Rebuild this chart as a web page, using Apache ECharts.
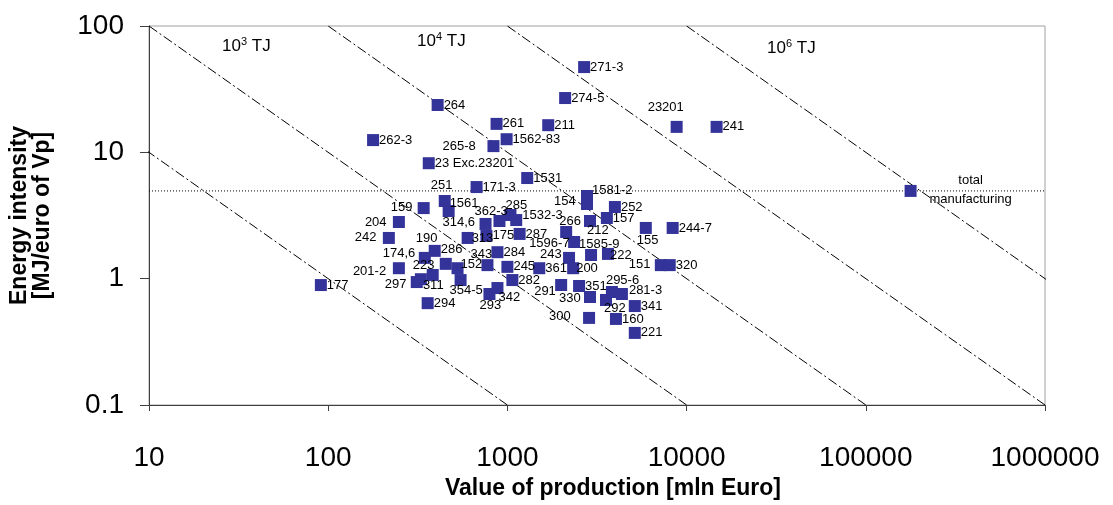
<!DOCTYPE html>
<html>
<head>
<meta charset="utf-8">
<script src="https://cdn.jsdelivr.net/npm/echarts@6/dist/echarts.min.js"></script>
<style>
  html, body { margin: 0; padding: 0; background: #fff; }
  #chart { width: 1113px; height: 505px; }
</style>
</head>
<body>
<div id="chart"></div>
<script>
// sectors (NACE codes), value of production [mln Euro], energy intensity [MJ/euro of Vp]
var sectors = ['177', '262-3', '264', '271-3', '274-5', '23201', '241', '261', '211', '1562-83',
  '265-8', '23 Exc.23201', '1531', '171-3', '251', '1561', '159', '1581-2', '154', '252',
  '157', '244-7', '155', '204', '242', '362-3', '314,6', '285', '1532-3', '287',
  '175', '313', '190', '286', '174,6', '284', '343', '152', '223', '311',
  '297', '201-2', '294', '354-5', '293', '342', '245', '282', '291', '351',
  '330', '295-6', '281-3', '292', '341', '300', '160', '221', '151', '320',
  '1596-7', '266', '212', '1585-9', '222', '243', '200', '361', 'total manufacturing'];
var production = [91, 178, 408, 2680, 2100, 8800, 14700, 870, 1690, 990,
  836, 364, 1290, 673, 447, 470, 341, 2780, 2780, 3980,
  3590, 8360, 5920, 248, 218, 903, 755, 1040, 1120, 1170,
  764, 600, 393, 453, 346, 880, 774, 527, 383, 329,
  312, 248, 359, 548, 794, 880, 1000, 1066, 1995, 2512,
  2890, 3830, 4355, 3550, 5140, 2856, 4034, 5140, 7180, 8050,
  2357, 2128, 2890, 2930, 3640, 2208, 2328, 1506, 177800];
var intensity = [0.89, 12.5, 23.7, 47.3, 26.9, 15.9, 15.9, 16.8, 16.4, 12.7,
  11.2, 8.2, 6.26, 5.31, 4.12, 3.43, 3.62, 4.51, 3.9, 3.69,
  3.02, 2.52, 2.52, 2.81, 2.1, 2.86, 2.71, 3.19, 2.91, 2.26,
  2.18, 2.1, 1.66, 1.31, 1.46, 1.62, 1.28, 1.21, 1.07, 0.99,
  0.94, 1.21, 0.64, 0.975, 0.756, 0.843, 1.24, 0.975, 0.891, 0.875,
  0.716, 0.784, 0.756, 0.678, 0.607, 0.489, 0.48, 0.372, 1.28, 1.28,
  1.95, 2.34, 2.86, 1.54, 1.57, 1.46, 1.21, 1.21, 4.95];
var totalIntensity = 4.95;
// iso-energy lines, TJ
var energyLevels = [100, 1000, 10000, 100000, 1000000];
var xTicks = [10, 100, 1000, 10000, 100000, 1000000];
var yTicks = [0.1, 1, 10, 100];

// label placement tweaks (pixels from marker centre to label's left/middle)
var labelShift = {
  '23201': [-29, -19], '265-8': [-51, 0], '251': [-14, -16], '1561': [1, -8],
  '159': [-33, -1], '1581-2': [5, -6], '154': [-33, -3], '155': [-9, 12],
  '204': [-34, 0], '242': [-34, -1], '362-3': [-25, -10], '314,6': [-43, -2],
  '285': [-5, -10], '1532-3': [6, -5], '190': [-19, -12], '286': [-5, -14],
  '174,6': [-42, -4], '343': [-17, -11], '152': [3, -4], '223': [-20, -10],
  '311': [2, 6], '297': [-32, 2], '201-2': [-46, 3], '354-5': [-11, 10],
  '293': [-10, 11], '342': [1, 9], '291': [-27, 6], '330': [-31, 1],
  '295-6': [-6, -12], '281-3': [7, -4], '292': [-2, 8], '300': [-40, -1],
  '151': [-32, -1], '1596-7': [-45, 1], '266': [-7, -11], '212': [-3, 9],
  '1585-9': [-12, -11], '222': [2, 2], '243': [-29, -3], '200': [3, 0], '313': [4, 0]
};

var font = 'Liberation Sans, Arial, sans-serif';
var half = 6;

var points = sectors.map(function (s, i) {
  var item = { name: s, value: [production[i], intensity[i]] };
  if (s === 'total manufacturing') {
    item.label = {
      formatter: 'total\nmanufacturing', position: [half + 60, half - 1],
      align: 'center', verticalAlign: 'middle', lineHeight: 19
    };
  } else {
    var d = labelShift[s] || [6, 0];
    item.label = { position: [half + d[0], half + d[1]] };
  }
  return item;
});

var series = [];
energyLevels.forEach(function (e) {
  series.push({
    type: 'line', silent: true, symbol: 'none', z: 2,
    data: [[e / 100, 100], [e / 0.1, 0.1]],
    lineStyle: { color: '#000', width: 1, type: [10, 3, 2, 3] }
  });
});
series.push({
  type: 'line', silent: true, symbol: 'none', z: 2,
  data: [[xTicks[0], totalIntensity], [xTicks[xTicks.length - 1], totalIntensity]],
  lineStyle: { color: '#000', width: 1, type: [1, 2] }
});
series.push({
  type: 'scatter', z: 5, symbol: 'rect', symbolSize: 12,
  itemStyle: { color: '#333399', opacity: 1 },
  label: {
    show: true, formatter: '{b}', color: '#000', fontSize: 13, fontFamily: font,
    align: 'left', verticalAlign: 'middle'
  },
  data: points
});

function tickText(v) { return String(+Number(v).toPrecision(6)); }

var myChart = echarts.init(document.getElementById('chart'));
myChart.setOption({
  animation: false,
  grid: { left: 145, right: 68, top: 26, bottom: 100, show: true, borderColor: '#a0a0a0', borderWidth: 1 },
  xAxis: {
    type: 'log', logBase: 10, min: xTicks[0], max: xTicks[xTicks.length - 1],
    axisLine: { show: true, lineStyle: { color: '#404040', width: 1 } },
    axisTick: { show: true, length: 6, lineStyle: { color: '#404040' } },
    minorTick: { show: false },
    splitLine: { show: false },
    axisLabel: { fontSize: 28, color: '#000', fontFamily: font, margin: 39, formatter: tickText },
    name: 'Value of production [mln Euro]',
    nameLocation: 'middle', nameGap: 72,
    nameTextStyle: { fontSize: 23, fontWeight: 'bold', color: '#000', fontFamily: font, padding: [0, 0, 0, 32] }
  },
  yAxis: {
    type: 'log', logBase: 10, min: yTicks[0], max: yTicks[yTicks.length - 1],
    axisLine: { show: true, lineStyle: { color: '#404040', width: 1 } },
    axisTick: { show: true, length: 9, lineStyle: { color: '#404040' } },
    minorTick: { show: false },
    splitLine: { show: false },
    axisLabel: { fontSize: 28, color: '#000', fontFamily: font, margin: 25, formatter: tickText },
    name: 'Energy intensity\n[MJ/euro of Vp]',
    nameLocation: 'middle', nameGap: 95,
    nameTextStyle: { fontSize: 23, fontWeight: 'bold', color: '#000', fontFamily: font, lineHeight: 23 }
  },
  graphic: [
    { type: 'text', x: 222, y: 36, style: { text: '{n|10}{s|3}{n| TJ}', rich: { n: { fontSize: 17, fontFamily: font }, s: { fontSize: 11, fontFamily: font, padding: [0, 0, 9, 0] } }, fill: '#000' } },
    { type: 'text', x: 417, y: 31, style: { text: '{n|10}{s|4}{n| TJ}', rich: { n: { fontSize: 17, fontFamily: font }, s: { fontSize: 11, fontFamily: font, padding: [0, 0, 9, 0] } }, fill: '#000' } },
    { type: 'text', x: 767, y: 38, style: { text: '{n|10}{s|6}{n| TJ}', rich: { n: { fontSize: 17, fontFamily: font }, s: { fontSize: 11, fontFamily: font, padding: [0, 0, 9, 0] } }, fill: '#000' } }
  ],
  series: series
});
</script>
</body>
</html>
